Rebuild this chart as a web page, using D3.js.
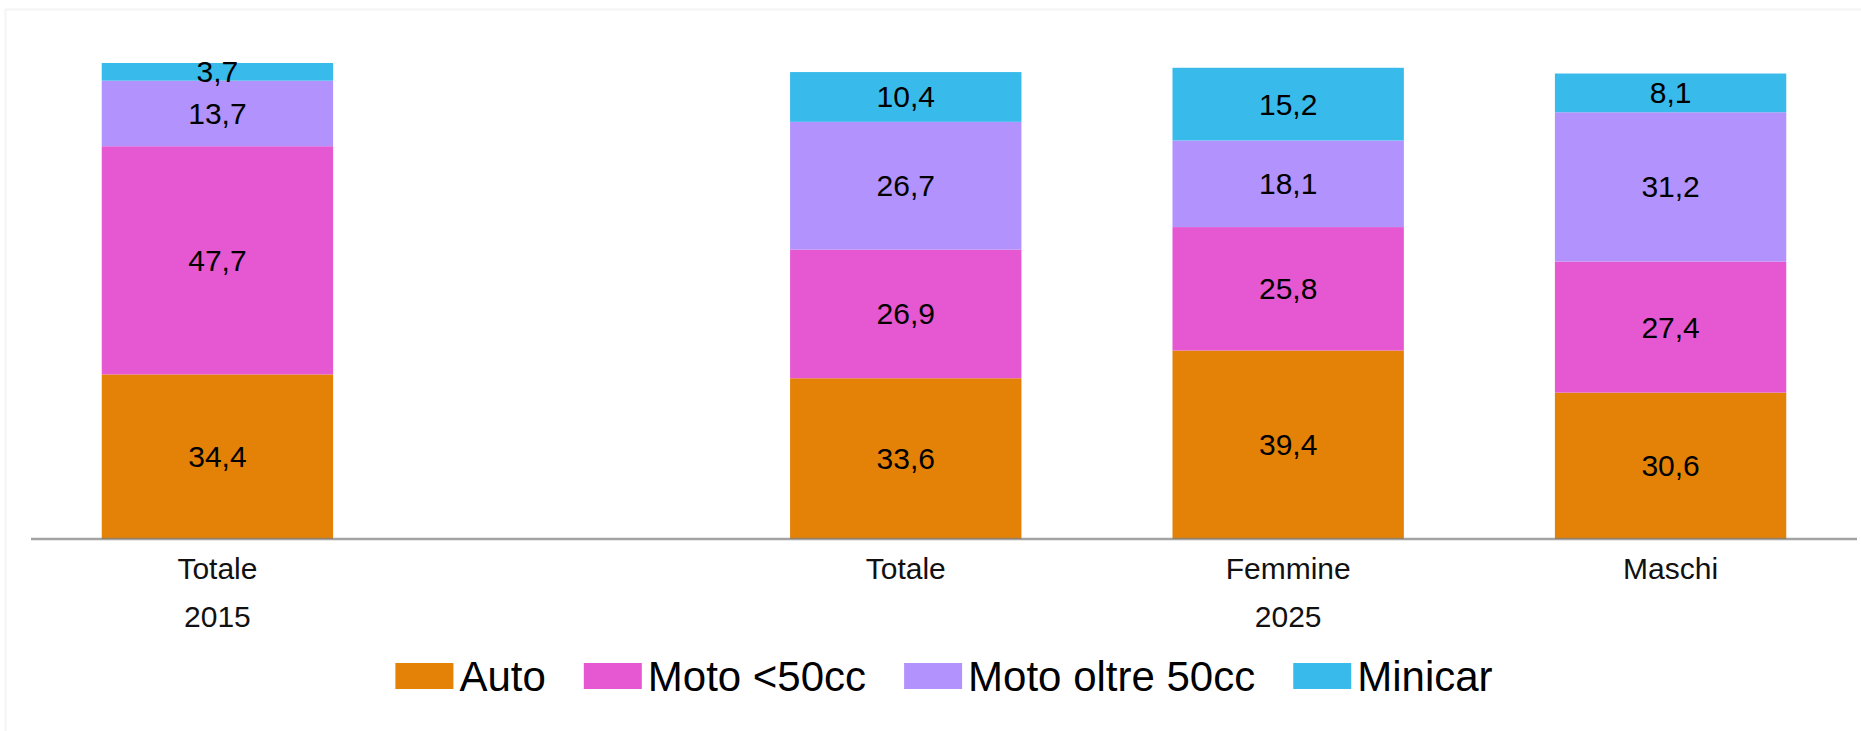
<!DOCTYPE html>
<meta charset="utf-8">
<style>
body { margin: 0; background: #fff; }
svg { display: block; font-family: Arial, "Liberation Sans", sans-serif; }
.value { font-size: 30px; fill: #000; }
.cat { font-size: 30px; fill: #111; }
.legend text { font-size: 42px; fill: #000; }
</style>
<body>
<svg width="1861" height="731"></svg>
<script src="https://cdn.jsdelivr.net/npm/d3@7"></script>
<script>

// data
var categories = ["Totale", "Totale", "Femmine", "Maschi"];
var years = ["2015", "2025", "2025", "2025"];
var series = ["Auto", "Moto <50cc", "Moto oltre 50cc", "Minicar"];
var auto = [34.4, 33.6, 39.4, 30.6];
var motoPiccole = [47.7, 26.9, 25.8, 27.4];
var motoGrandi = [13.7, 26.7, 18.1, 31.2];
var minicar = [3.7, 10.4, 15.2, 8.1];
var colors = ["#e38207", "#e558d1", "#b292fc", "#38baea"];

var svg = d3.select("svg"),
    width = +svg.attr("width"),
    height = +svg.attr("height");

var left = 31, right = 1857, axisY = 539;
var groupGap = 0.8, outerPad = 0.4875;

var groups = Array.from(new Set(years));
// position of each bar along the axis, with a gap between year groups
var slot = categories.map(function(c, i) { return i + groups.indexOf(years[i]) * groupGap; });

var x = d3.scaleLinear()
    .domain([-outerPad, d3.max(slot) + outerPad])
    .range([left, right]);
var step = x(1) - x(0);
var barW = step * 0.605;

var y = d3.scaleLinear()
    .domain([0, 100])
    .range([axisY, 60.6]);

var comma = d3.formatLocale({decimal: ",", thousands: ".", grouping: [3], currency: ["", "€"]}).format(".1f");

var rows = categories.map(function(c, i) {
  return {cat: c, year: years[i], pos: slot[i],
    "Auto": auto[i], "Moto <50cc": motoPiccole[i], "Moto oltre 50cc": motoGrandi[i], "Minicar": minicar[i]};
});
var stacked = d3.stack().keys(series)(rows);

// faint frame
svg.append("path")
    .attr("d", "M5.5," + height + "V9.5H" + width)
    .attr("fill", "none")
    .attr("stroke", "#f4f4f4")
    .attr("stroke-width", 2);

var layer = svg.selectAll(".layer")
  .data(stacked)
  .enter().append("g")
    .attr("class", "layer")
    .attr("fill", function(d, i) { return colors[i]; });

layer.selectAll("rect")
  .data(function(d) { return d; })
  .enter().append("rect")
    .attr("x", function(d) { return x(d.data.pos) - barW / 2; })
    .attr("width", barW)
    .attr("y", function(d) { return y(d[1]); })
    .attr("height", function(d) { return y(d[0]) - y(d[1]); });

layer.selectAll("text")
  .data(function(d) { return d; })
  .enter().append("text")
    .attr("class", "value")
    .attr("x", function(d) { return x(d.data.pos); })
    .attr("y", function(d) { return (y(d[0]) + y(d[1])) / 2; })
    .attr("text-anchor", "middle")
    .attr("dominant-baseline", "central")
    .text(function(d) { return comma(d[1] - d[0]); });

// axis line
svg.append("line")
    .attr("x1", left).attr("x2", right)
    .attr("y1", axisY).attr("y2", axisY)
    .attr("stroke", "#808080")
    .attr("stroke-opacity", 0.72)
    .attr("stroke-width", 2.5);

svg.selectAll(".cat")
  .data(rows)
  .enter().append("text")
    .attr("class", "cat")
    .attr("x", function(d) { return x(d.pos); })
    .attr("y", 579)
    .attr("text-anchor", "middle")
    .text(function(d) { return d.cat; });

svg.selectAll(".year")
  .data(groups)
  .enter().append("text")
    .attr("class", "cat year")
    .attr("x", function(g) {
      return x(d3.mean(rows.filter(function(r) { return r.year === g; }), function(r) { return r.pos; }));
    })
    .attr("y", 627)
    .attr("text-anchor", "middle")
    .text(function(g) { return g; });

// legend
var legend = svg.append("g").attr("class", "legend");
var items = legend.selectAll("g")
  .data(series)
  .enter().append("g");
items.append("rect")
    .attr("width", 58).attr("height", 26)
    .attr("y", 663)
    .attr("fill", function(d, i) { return colors[i]; });
items.append("text")
    .attr("x", 64)
    .attr("y", 691)
    .text(function(d) { return d; });

var offset = 0;
items.each(function() {
  var g = d3.select(this);
  g.attr("transform", "translate(" + offset + ",0)");
  offset += 64 + g.select("text").node().getComputedTextLength() + 38;
});
offset -= 38;
legend.attr("transform", "translate(" + ((left + right) / 2 - offset / 2) + ",0)");

</script>
</body>
